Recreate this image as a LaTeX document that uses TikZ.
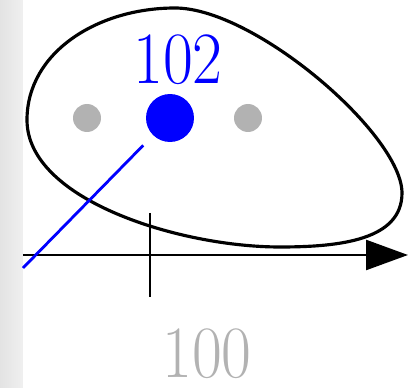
\documentclass[tikz,border=0pt]{standalone}
\usetikzlibrary{arrows.meta}
\begin{document}
\begin{tikzpicture}[x=0.02cm,y=-0.02cm,
  dotgray/.style={circle,fill=black!30,inner sep=0pt,minimum size=0.56cm},
  dotblue/.style={circle,fill=blue,inner sep=0pt,minimum size=0.96cm},
  bigtext/.style={font=\fontsize{42}{42}\selectfont,inner sep=0pt,xscale=0.88,anchor=base},
  blob/.style={line width=1.8pt},
  axis/.style={line width=1.4pt,-{Triangle[length=23.8pt,width=17pt]}}]
\useasboundingbox (0,0) rectangle (417,388);
\shade[left color=black!11,right color=black!6] (0,0) rectangle (23,388);
% closed curve
\draw[blob] (27,120) .. controls (27,52) and (98,8) .. (175,8)
  .. controls (255,8) and (402,135) .. (402,193)
  .. controls (402,240) and (340,247) .. (280,247)
  .. controls (180,247) and (27,200) .. cycle;
% axis
\coordinate (ax0) at (23,255);
\coordinate (ax1) at (408,255);
\draw[axis] (ax0) -- (ax1);
\coordinate (t0) at (150,213);
\coordinate (t1) at (150,297);
\draw[line width=1.4pt] (t0) -- (t1);
% dots
\node[dotgray] (g1) at (87,118) {};
\node[dotgray] (g2) at (248,118) {};
\node[dotblue] (b) at (170,118) {};
\coordinate (l0) at (23,268);
\draw[blue,line width=1.6pt,shorten >=0.28cm] (l0) -- (b);
% labels
\node[bigtext,text=blue] (lab102) at (178,84) {102};
\node[bigtext,text=black!30] (lab100) at (207,378) {100};
\end{tikzpicture}
\end{document}
